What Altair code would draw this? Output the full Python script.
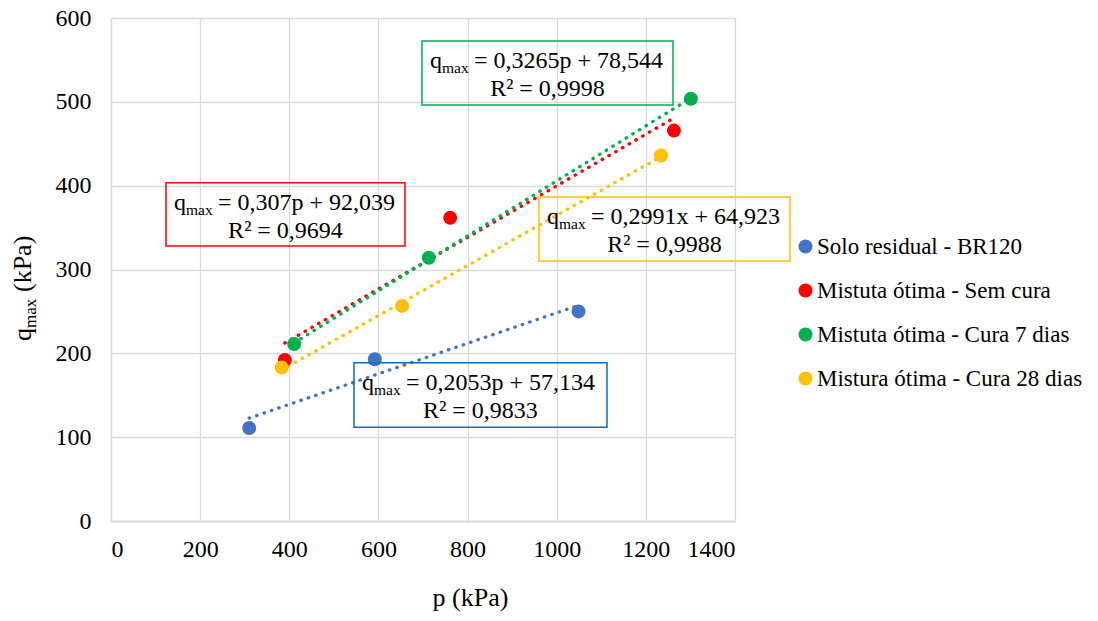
import altair as alt
import pandas as pd

FONT = "Liberation Serif"

series = ["Solo residual - BR120", "Mistuta ótima - Sem cura",
          "Mistuta ótima - Cura 7 dias", "Mistura ótima - Cura 28 dias"]
colors = ["#4472C4", "#FF0000", "#00B050", "#FFC000"]

p_blue = [310, 592, 1049]
q_blue = [111, 193, 250]
p_red = [390, 761, 1263]
q_red = [192, 361.6, 465.7]
p_green = [411, 713, 1301]
q_green = [211, 314, 503.6]
p_yellow = [383, 653, 1234]
q_yellow = [183, 256.6, 436]

rows = []
for s, ps, qs in zip(series, [p_blue, p_red, p_green, p_yellow],
                     [q_blue, q_red, q_green, q_yellow]):
    for p, q in zip(ps, qs):
        rows.append({"serie": s, "p": p, "q": q})
df = pd.DataFrame(rows)

# annotation boxes (data coordinates)
ann_x1 = [123.4, 697.8, 960.3, 545.2]
ann_x2 = [659.6, 1260.9, 1523.4, 1112.8]
ann_top = [403.5, 572.6, 386.5, 188.8]
ann_bot = [328.0, 496.2, 310.1, 111.8]
ann_color = ["#FF0000", "#00B050", "#FFC000", "#0070C0"]
ann_eq = ["= 0,307p + 92,039", "= 0,3265p + 78,544",
          "= 0,2991x + 64,923", "= 0,2053p + 57,134"]
ann_r2 = ["R² = 0,9694", "R² = 0,9998", "R² = 0,9988", "R² = 0,9833"]

ann = pd.DataFrame({"x1": ann_x1, "x2": ann_x2, "top": ann_top, "bot": ann_bot,
                    "color": ann_color, "eq": ann_eq, "r2": ann_r2})
ann["cx"] = (ann["x1"] + ann["x2"]) / 2
ann["q"] = "q"
ann["sub"] = "max"

xscale = alt.Scale(domain=[0, 1400], nice=False)
yscale = alt.Scale(domain=[0, 600], nice=False)
cscale = alt.Scale(domain=series, range=colors)

axis_style = dict(labelFont=FONT, labelFontSize=24, labelColor="black",
                  grid=True, gridColor="#D9D9D9", gridWidth=1.3,
                  domainColor="#D9D9D9", domainWidth=1.3, ticks=False, tickSize=0,
                  format="d")
xaxis = alt.Axis(values=list(range(0, 1401, 200)), title="p (kPa)",
                 titleFont=FONT, titleFontSize=26, titleFontWeight="normal",
                 titleColor="black",
                 titleX=359, titleY=84, titleBaseline="alphabetic",
                 labelPadding=16, **axis_style)
yaxis = alt.Axis(values=list(range(0, 601, 100)), title=None, labelPadding=20,
                 **axis_style)

base = alt.Chart(df)

lines = base.transform_regression("p", "q", groupby=["serie"]).transform_calculate(
    trend="datum.serie"
).mark_line(
    strokeDash=[0.5, 7.3], strokeCap="round", strokeWidth=3.3
).encode(
    x=alt.X("p:Q", scale=xscale, axis=xaxis),
    y=alt.Y("q:Q", scale=yscale, axis=yaxis),
    stroke=alt.Stroke("trend:N", scale=cscale, legend=None),
    detail="trend:N",
)

points = base.mark_point(filled=True, opacity=1, size=196, shape="circle").encode(
    x=alt.X("p:Q", scale=xscale, axis=xaxis),
    y=alt.Y("q:Q", scale=yscale, axis=yaxis),
    color=alt.Color("serie:N", scale=cscale, sort=series,
                    legend=alt.Legend(orient="none", legendX=683, legendY=217,
                                      title=None, labelFont=FONT, labelFontSize=23,
                                      labelColor="black", symbolType="circle",
                                      symbolSize=196, symbolStrokeWidth=0,
                                      rowPadding=20, labelOffset=0, padding=0,
                                      labelLimit=400)),
)

abase = alt.Chart(ann)
boxes = abase.mark_rect(fillOpacity=0, strokeWidth=1.5).encode(
    x="x1:Q", x2="x2:Q", y="top:Q", y2="bot:Q",
    stroke=alt.Stroke("color:N", scale=None),
)
t_q = abase.mark_text(font=FONT, fontSize=24, align="left", baseline="alphabetic",
                      dx=8, dy=27, color="black").encode(x="x1:Q", y="top:Q", text="q:N")
t_sub = abase.mark_text(font=FONT, fontSize=15.5, align="left", baseline="alphabetic",
                        dx=20, dy=32, color="black").encode(x="x1:Q", y="top:Q", text="sub:N")
t_eq = abase.mark_text(font=FONT, fontSize=24, align="left", baseline="alphabetic",
                       dx=52, dy=27, color="black").encode(x="x1:Q", y="top:Q", text="eq:N")
t_r2 = abase.mark_text(font=FONT, fontSize=24, align="center", baseline="alphabetic",
                       dy=55, color="black").encode(x="cx:Q", y="top:Q", text="r2:N")

# y-axis title with subscript
yt = pd.DataFrame({"a": ["q"], "b": ["max"], "c": ["(kPa)"]})
ybase = alt.Chart(yt)
yt_q = ybase.mark_text(font=FONT, fontSize=26, angle=270, align="left",
                       baseline="alphabetic", color="black").encode(
    x=alt.value(-80), y=alt.value(323), text="a:N")
yt_b = ybase.mark_text(font=FONT, fontSize=17, angle=270, align="left",
                       baseline="alphabetic", dx=13, dy=5, color="black").encode(
    x=alt.value(-80), y=alt.value(323), text="b:N")
yt_c = ybase.mark_text(font=FONT, fontSize=26, angle=270, align="left",
                       baseline="alphabetic", dx=49, color="black").encode(
    x=alt.value(-80), y=alt.value(323), text="c:N")

chart = alt.layer(lines, points, boxes, t_q, t_sub, t_eq, t_r2, yt_q, yt_b, yt_c).properties(
    width=624, height=503,
    padding={"left": 103, "top": 10, "right": 355, "bottom": 92},
    autosize="none",
).resolve_scale(stroke="independent").configure(
    font=FONT
).configure_legend(
    labelFont=FONT
).configure_axis(
    labelFont=FONT, titleFont=FONT
).configure_view(stroke=None)

chart.save("out.html", embed_options={"renderer": "svg", "actions": False})
